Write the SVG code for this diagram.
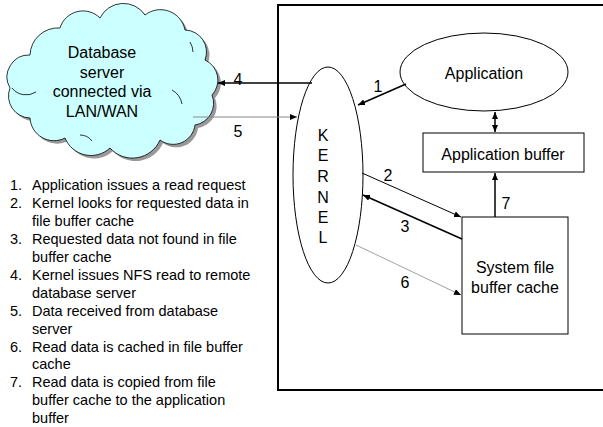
<svg xmlns="http://www.w3.org/2000/svg" width="603" height="427" viewBox="0 0 603 427">
<defs>
<marker id="ah" markerUnits="userSpaceOnUse" markerWidth="8" markerHeight="6" refX="7" refY="3" orient="auto-start-reverse">
<path d="M0,0 L7,3 L0,6 z" fill="#000"/>
</marker>
</defs>
<style>
text{font-family:"Liberation Sans",Arial,sans-serif;fill:#000}
.lbl{font-size:16px;text-anchor:middle}
.lst{font-size:14.5px}
.shape{fill:#fff;stroke:#000;stroke-width:1}
.ln{stroke:#000;stroke-width:1.5;fill:none}
.thin{stroke:#000;stroke-width:1;fill:none}
.gray{stroke:#888;stroke-width:1.2;fill:none}
.grayt{stroke:#777;stroke-width:0.7;fill:none}
</style>
<rect x="0" y="0" width="603" height="427" fill="#fff"/>
<g id="system-box">
<rect x="278" y="5" width="340" height="385" fill="none" stroke="#000" stroke-width="2"/>
</g>
<g id="cloud">
<path transform="translate(3,3)" fill="#999" d="M30,55 A28,28 0 0 1 60,28 A24,24 0 0 1 100,18 A26,26 0 0 1 145,15 A25,25 0 0 1 185,30 A22,22 0 0 1 205,60 A22,22 0 0 1 212,95 A22,22 0 0 1 195,125 A22,22 0 0 1 160,140 A30,30 0 0 1 110,148 A28,28 0 0 1 65,138 A24,24 0 0 1 30,118 A22,22 0 0 1 10,88 A22,22 0 0 1 30,55 z"/>
<path fill="#ccffff" stroke="#000" stroke-width="0.8" d="M30,55 A28,28 0 0 1 60,28 A24,24 0 0 1 100,18 A26,26 0 0 1 145,15 A25,25 0 0 1 185,30 A22,22 0 0 1 205,60 A22,22 0 0 1 212,95 A22,22 0 0 1 195,125 A22,22 0 0 1 160,140 A30,30 0 0 1 110,148 A28,28 0 0 1 65,138 A24,24 0 0 1 30,118 A22,22 0 0 1 10,88 A22,22 0 0 1 30,55 z"/>
<path fill="none" stroke="#000" stroke-width="0.8" d="M12,88 A18,18 0 0 0 36,92 M172,90 A20,20 0 0 1 182,104 M80,135 A15,15 0 0 1 92,141 M190,42 A20,20 0 0 1 193,52"/>
<text class="lbl" x="102" y="58">Database</text>
<text class="lbl" x="102" y="77.5">server</text>
<text class="lbl" x="102" y="97">connected via</text>
<text class="lbl" x="102" y="116.5">LAN/WAN</text>
</g>
<g id="kernel">
<ellipse class="shape" cx="328" cy="175" rx="35" ry="108"/>
<text class="lbl" x="323" y="141">K</text>
<text class="lbl" x="323" y="161">E</text>
<text class="lbl" x="323" y="182">R</text>
<text class="lbl" x="323" y="203">N</text>
<text class="lbl" x="323" y="223">E</text>
<text class="lbl" x="323" y="243">L</text>
</g>
<g id="application">
<ellipse class="shape" cx="484" cy="72" rx="84" ry="39"/>
<text class="lbl" x="484" y="79">Application</text>
</g>
<g id="application-buffer">
<rect class="shape" x="423" y="133" width="161" height="39"/>
<text class="lbl" x="503" y="160">Application buffer</text>
</g>
<g id="system-file-buffer-cache">
<rect class="shape" x="462" y="217" width="106" height="117"/>
<text class="lbl" x="515" y="273">System file</text>
<text class="lbl" x="515" y="293">buffer cache</text>
</g>
<g id="connectors">
<line class="ln" x1="406" y1="84" x2="358" y2="105" marker-end="url(#ah)"/>
<line class="thin" x1="362" y1="173" x2="461" y2="217" marker-end="url(#ah)"/>
<line class="ln" x1="462" y1="239" x2="363" y2="195" marker-end="url(#ah)"/>
<line class="ln" x1="312" y1="83" x2="218" y2="83" marker-end="url(#ah)"/>
<line class="gray" x1="193" y1="117" x2="297" y2="117" marker-end="url(#ah)"/>
<line class="grayt" x1="356" y1="245" x2="461" y2="295" marker-end="url(#ah)"/>
<line class="ln" x1="495" y1="217" x2="495" y2="173" marker-end="url(#ah)"/>
<line class="ln" x1="495" y1="112" x2="495" y2="132" marker-start="url(#ah)" marker-end="url(#ah)"/>
<text class="lbl" x="378" y="92">1</text>
<text class="lbl" x="388" y="181">2</text>
<text class="lbl" x="405" y="232">3</text>
<text class="lbl" x="238" y="85">4</text>
<text class="lbl" x="238" y="137">5</text>
<text class="lbl" x="405" y="288">6</text>
<text class="lbl" x="506" y="209">7</text>
</g>
<g id="legend" class="lst">
<text class="lst" x="10" y="190">1.</text><text class="lst" x="32" y="190">Application issues a read request</text>
<text class="lst" x="10" y="208">2.</text><text class="lst" x="32" y="208">Kernel looks for requested data in</text>
<text class="lst" x="32" y="226">file buffer cache</text>
<text class="lst" x="10" y="244">3.</text><text class="lst" x="32" y="244">Requested data not found in file</text>
<text class="lst" x="32" y="262">buffer cache</text>
<text class="lst" x="10" y="280">4.</text><text class="lst" x="32" y="280">Kernel issues NFS read to remote</text>
<text class="lst" x="32" y="297.5">database server</text>
<text class="lst" x="10" y="315.5">5.</text><text class="lst" x="32" y="315.5">Data received from database</text>
<text class="lst" x="32" y="333.5">server</text>
<text class="lst" x="10" y="351.5">6.</text><text class="lst" x="32" y="351.5">Read data is cached in file buffer</text>
<text class="lst" x="32" y="369">cache</text>
<text class="lst" x="10" y="387">7.</text><text class="lst" x="32" y="387">Read data is copied from file</text>
<text class="lst" x="32" y="405">buffer cache to the application</text>
<text class="lst" x="32" y="423">buffer</text>
</g>
</svg>
